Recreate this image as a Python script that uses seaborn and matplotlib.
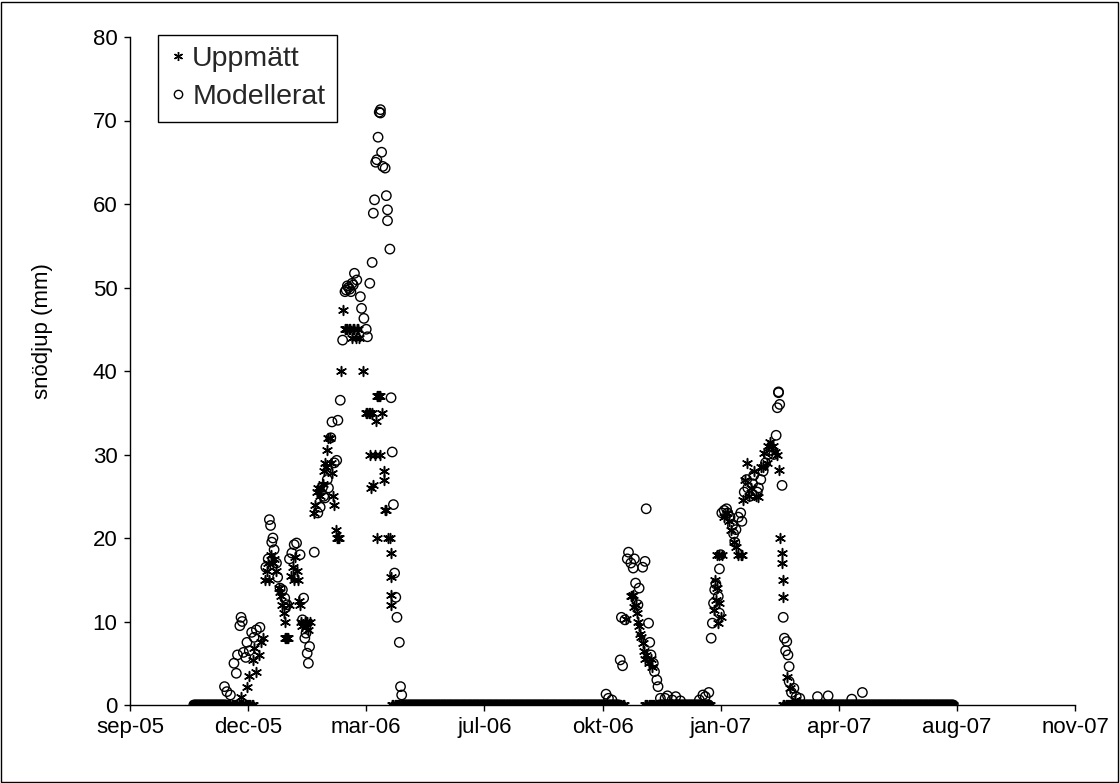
import pandas as pd
import matplotlib
matplotlib.use("Agg")
import matplotlib.pyplot as plt
from matplotlib.lines import Line2D
from matplotlib.patches import Rectangle
import seaborn as sns

sns.set_theme(style="white")
plt.rcParams["font.family"] = ["Liberation Sans", "DejaVu Sans"]

# --- Uppmätt snödjup (mm) ---------------------------------------------------
uppmatt_noll = [("2005-10-29", "2005-12-18"), ("2006-04-15", "2006-10-28"),
                ("2006-11-15", "2007-01-09"), ("2007-03-12", "2007-08-03")]

uppmatt_datum = [
    "2005-12-08", "2005-12-13", "2005-12-15", "2005-12-18", "2005-12-19", "2005-12-21",
    "2005-12-23", "2005-12-25", "2005-12-27", "2005-12-28", "2005-12-30", "2005-12-31",
    "2006-01-01", "2006-01-02", "2006-01-04", "2006-01-05", "2006-01-07", "2006-01-09",
    "2006-01-10", "2006-01-11", "2006-01-12", "2006-01-13", "2006-01-14", "2006-01-14",
    "2006-01-15", "2006-01-16", "2006-01-17", "2006-01-18", "2006-01-19", "2006-01-21",
    "2006-01-22", "2006-01-23", "2006-01-24", "2006-01-25", "2006-01-26", "2006-01-27",
    "2006-01-28", "2006-01-29", "2006-01-31", "2006-02-01", "2006-02-02", "2006-02-03",
    "2006-02-04", "2006-02-08", "2006-02-09", "2006-02-10", "2006-02-11", "2006-02-13",
    "2006-02-14", "2006-02-15", "2006-02-16", "2006-02-17", "2006-02-18", "2006-02-19",
    "2006-02-20", "2006-02-21", "2006-02-22", "2006-02-23", "2006-02-24", "2006-02-25",
    "2006-02-26", "2006-02-27", "2006-02-28", "2006-03-01", "2006-03-03", "2006-03-04",
    "2006-03-06", "2006-03-07", "2006-03-08", "2006-03-09", "2006-03-10", "2006-03-12",
    "2006-03-13", "2006-03-14", "2006-03-15", "2006-03-16", "2006-03-17", "2006-03-18",
    "2006-03-21", "2006-03-24", "2006-03-25", "2006-03-26", "2006-03-27", "2006-03-27",
    "2006-03-28", "2006-03-29", "2006-03-30", "2006-03-31", "2006-04-01", "2006-04-02",
    "2006-04-02", "2006-04-03", "2006-04-04", "2006-04-05", "2006-04-05", "2006-04-06",
    "2006-04-08", "2006-04-08", "2006-04-09", "2006-04-10", "2006-04-11", "2006-04-13",
    "2006-04-14", "2006-04-14", "2006-04-14", "2006-04-14",
    "2006-10-30", "2006-11-03", "2006-11-04", "2006-11-05", "2006-11-06", "2006-11-07",
    "2006-11-08", "2006-11-09", "2006-11-10", "2006-11-11", "2006-11-12", "2006-11-13",
    "2006-11-14", "2006-11-15", "2006-11-16", "2006-11-18", "2006-11-20", "2006-11-21",
    "2007-01-12", "2007-01-13", "2007-01-14", "2007-01-15", "2007-01-15", "2007-01-16",
    "2007-01-17", "2007-01-17", "2007-01-18", "2007-01-19", "2007-01-21", "2007-01-23",
    "2007-01-25", "2007-01-27", "2007-01-29", "2007-01-31", "2007-02-02", "2007-02-04",
    "2007-02-05", "2007-02-06", "2007-02-08", "2007-02-09", "2007-02-11", "2007-02-13",
    "2007-02-15", "2007-02-17", "2007-02-19", "2007-02-21", "2007-02-23", "2007-02-24",
    "2007-02-26", "2007-02-27", "2007-03-01", "2007-03-03", "2007-03-05", "2007-03-07",
    "2007-03-08", "2007-03-09", "2007-03-11", "2007-03-11", "2007-03-12", "2007-03-12",
    "2007-03-15", "2007-03-18", "2007-03-22",
]
uppmatt_djup = [
    1.0, 2.2, 3.5, 5.4, 6.8, 4.0,
    6.0, 7.5, 8.0, 15.0, 16.0, 17.0,
    15.0, 18.0, 17.0, 17.5, 16.0, 14.0,
    13.5, 13.0, 12.0, 11.0, 10.0, 8.0,
    8.0, 8.0, 8.0, 12.0, 15.5, 16.5,
    15.0, 17.7, 16.0, 15.0, 12.5, 12.0,
    10.0, 9.5, 10.0, 9.3, 10.0, 9.0,
    10.0, 23.0, 24.0, 25.5, 26.0, 25.0,
    26.0, 26.5, 28.0, 29.0, 28.5, 30.5,
    32.0, 32.0, 29.0, 27.8, 25.0, 24.0,
    21.0, 20.0, 20.0, 20.0, 40.0, 47.3,
    45.0, 45.0, 45.0, 45.0, 45.0, 44.0,
    45.0, 45.0, 44.0, 45.0, 45.0, 44.0,
    40.0, 35.0, 35.0, 35.0, 35.0, 30.0,
    26.0, 35.0, 26.3, 30.0, 34.0, 37.0,
    20.0, 37.0, 37.0, 37.0, 30.0, 35.0,
    28.0, 27.0, 23.4, 23.4, 20.0, 20.0,
    18.2, 15.3, 13.2, 12.0,
    10.3, 13.0, 13.0, 13.2, 11.7, 12.0,
    11.0, 10.0, 9.5, 8.5, 8.1, 7.4,
    6.5, 5.5, 6.0, 5.0, 5.5, 4.5,
    11.4, 15.0, 12.6, 14.0, 18.0, 9.8,
    12.2, 18.0, 10.5, 18.0, 22.5, 23.0,
    22.0, 21.0, 19.5, 18.9, 18.0, 18.0,
    18.0, 24.5, 27.0, 29.0, 25.0, 26.0,
    28.0, 25.0, 24.9, 28.5, 28.5, 30.2,
    29.0, 31.0, 31.5, 31.0, 30.3, 30.0,
    28.1, 20.0, 18.2, 17.0, 15.0, 12.9,
    3.3, 2.0, 0.6,
]

# --- Modellerat snödjup (mm) ------------------------------------------------
modell_noll = [("2005-10-29", "2005-11-25"), ("2006-04-24", "2006-10-24"),
               ("2006-11-27", "2007-01-08"), ("2007-03-20", "2007-08-03")]

modell_datum = [
    "2005-11-24", "2005-11-26", "2005-11-29", "2005-12-02", "2005-12-04", "2005-12-05",
    "2005-12-07", "2005-12-08", "2005-12-09", "2005-12-10", "2005-12-12", "2005-12-13",
    "2005-12-15", "2005-12-17", "2005-12-19", "2005-12-21", "2005-12-24", "2005-12-29",
    "2005-12-31", "2006-01-01", "2006-01-02", "2006-01-03", "2006-01-04", "2006-01-05",
    "2006-01-07", "2006-01-08", "2006-01-10", "2006-01-12", "2006-01-14", "2006-01-16",
    "2006-01-18", "2006-01-20", "2006-01-22", "2006-01-24", "2006-01-27", "2006-01-29",
    "2006-01-30", "2006-01-31", "2006-02-01", "2006-02-02", "2006-02-03", "2006-02-04",
    "2006-02-08", "2006-02-11", "2006-02-13", "2006-02-15", "2006-02-16", "2006-02-17",
    "2006-02-19", "2006-02-20", "2006-02-22", "2006-02-23", "2006-02-25", "2006-02-27",
    "2006-02-28", "2006-03-02", "2006-03-04", "2006-03-06", "2006-03-07", "2006-03-08",
    "2006-03-09", "2006-03-10", "2006-03-11", "2006-03-12", "2006-03-13", "2006-03-14",
    "2006-03-16", "2006-03-19", "2006-03-20", "2006-03-22", "2006-03-24", "2006-03-25",
    "2006-03-27", "2006-03-29", "2006-03-30", "2006-03-31", "2006-04-01", "2006-04-02",
    "2006-04-03", "2006-04-04", "2006-04-05", "2006-04-05", "2006-04-06", "2006-04-07",
    "2006-04-09", "2006-04-10", "2006-04-11", "2006-04-11", "2006-04-13", "2006-04-14",
    "2006-04-15", "2006-04-16", "2006-04-17", "2006-04-18", "2006-04-19", "2006-04-21",
    "2006-04-22", "2006-04-23",
    "2006-10-13", "2006-10-15", "2006-10-18", "2006-10-25", "2006-10-26", "2006-10-27",
    "2006-10-29", "2006-10-31", "2006-11-01", "2006-11-03", "2006-11-05", "2006-11-06",
    "2006-11-07", "2006-11-09", "2006-11-10", "2006-11-13", "2006-11-15", "2006-11-16",
    "2006-11-18", "2006-11-19", "2006-11-20", "2006-11-22", "2006-11-23", "2006-11-25",
    "2006-11-26", "2006-11-28", "2006-12-02", "2006-12-04", "2006-12-08", "2006-12-11",
    "2006-12-15", "2006-12-31", "2007-01-03", "2007-01-05", "2007-01-08",
    "2007-01-10", "2007-01-11", "2007-01-12", "2007-01-13", "2007-01-14", "2007-01-16",
    "2007-01-17", "2007-01-17", "2007-01-18", "2007-01-19", "2007-01-21", "2007-01-23",
    "2007-01-24", "2007-01-26", "2007-01-28", "2007-01-29", "2007-01-30", "2007-01-31",
    "2007-02-02", "2007-02-04", "2007-02-05", "2007-02-07", "2007-02-09", "2007-02-10",
    "2007-02-12", "2007-02-14", "2007-02-15", "2007-02-18", "2007-02-19", "2007-02-21",
    "2007-02-23", "2007-02-25", "2007-02-27", "2007-03-02", "2007-03-04", "2007-03-06",
    "2007-03-07", "2007-03-08", "2007-03-08", "2007-03-09", "2007-03-11", "2007-03-12",
    "2007-03-13", "2007-03-14", "2007-03-15", "2007-03-16", "2007-03-17", "2007-03-17",
    "2007-03-19", "2007-03-21", "2007-03-23", "2007-03-26", "2007-04-10", "2007-04-19",
    "2007-05-09", "2007-05-18",
]
modell_djup = [
    2.2, 1.6, 1.2, 5.0, 3.8, 6.0,
    9.5, 10.5, 10.0, 6.3, 5.7, 7.5,
    6.5, 8.7, 8.1, 9.0, 9.3, 16.5,
    17.5, 22.2, 21.5, 19.5, 20.0, 18.6,
    17.0, 15.3, 14.0, 13.8, 12.8, 12.0,
    17.5, 18.2, 19.2, 19.4, 18.0, 10.2,
    12.8, 8.0, 8.6, 6.2, 5.0, 7.0,
    18.3, 23.0, 23.7, 26.1, 25.0, 24.8,
    27.0, 26.0, 32.0, 33.9, 29.0, 29.3,
    34.1, 36.5, 43.7, 49.5, 49.7, 50.2,
    50.0, 49.8, 49.5, 50.5, 50.3, 51.7,
    50.9, 48.9, 47.5, 46.3, 45.0, 44.1,
    50.5, 53.0, 58.9, 60.5, 65.0, 65.3,
    68.0, 71.0, 71.3, 70.9, 66.2, 64.5,
    64.3, 61.0, 59.3, 58.0, 54.6, 36.8,
    30.3, 24.0, 15.8, 12.9, 10.5, 7.5,
    2.2, 1.2,
    1.3, 0.8, 0.6, 5.4, 10.5, 4.7,
    10.2, 17.5, 18.3, 17.0, 16.4, 17.5,
    14.6, 12.0, 14.0, 16.5, 17.2, 23.5,
    9.8, 7.5, 6.0, 5.0, 4.0, 3.0,
    2.2, 0.8, 0.8, 1.1, 0.6, 1.0,
    0.5, 0.6, 1.2, 1.0, 1.5,
    8.0, 9.8, 12.2, 13.8, 14.5, 13.0,
    16.3, 11.0, 18.0, 23.0, 23.3, 23.5,
    23.0, 22.5, 21.5, 20.5, 19.5, 21.0,
    22.5, 23.0, 22.0, 25.5, 27.0, 26.0,
    25.0, 26.5, 27.5, 25.5, 26.0, 27.0,
    28.0, 29.0, 30.0, 30.5, 30.0, 32.3,
    35.6, 37.5, 37.4, 36.0, 26.3, 10.5,
    8.0, 6.5, 7.6, 6.0, 4.6, 2.8,
    1.5, 2.0, 1.0, 0.8, 1.0, 1.1,
    0.7, 1.5,
]

# --- Axlar -------------------------------------------------------------------
x_ticks = ["2005-09-05", "2005-12-14", "2006-03-24", "2006-07-02", "2006-10-10",
           "2007-01-18", "2007-04-28", "2007-08-06", "2007-11-14"]
x_ticklabels = ["sep-05", "dec-05", "mar-06", "jul-06", "okt-06",
                "jan-07", "apr-07", "aug-07", "nov-07"]
y_ticks = [0, 10, 20, 30, 40, 50, 60, 70, 80]


def serie(perioder, datum, djup):
    delar = [pd.DataFrame({"datum": pd.date_range(a, b, freq="D"), "djup": 0.0})
             for a, b in perioder]
    delar.append(pd.DataFrame({"datum": pd.to_datetime(datum), "djup": djup}))
    return pd.concat(delar, ignore_index=True)


uppmatt = serie(uppmatt_noll, uppmatt_datum, uppmatt_djup)
modell = serie(modell_noll, modell_datum, modell_djup)

fig = plt.figure(figsize=(11.2, 7.83), dpi=100)
ax = fig.add_axes([130 / 1120, 1 - 705 / 783, (1075 - 130) / 1120, (705 - 37) / 783])

stjarna = (6, 2, 0)
sns.scatterplot(data=modell, x="datum", y="djup", ax=ax, marker="o", s=46,
                facecolor="none", edgecolor="black", linewidth=1.0, zorder=3)
sns.scatterplot(data=uppmatt, x="datum", y="djup", ax=ax, marker=stjarna, s=50,
                color="black", linewidth=1.1, zorder=4)

ax.set_xlim(pd.Timestamp(x_ticks[0]), pd.Timestamp(x_ticks[-1]))
ax.set_ylim(y_ticks[0], y_ticks[-1])
ax.set_xticks(pd.to_datetime(x_ticks))
ax.set_xticklabels(x_ticklabels)
ax.set_yticks(y_ticks)

sns.despine(ax=ax)
for side in ("left", "bottom"):
    ax.spines[side].set_color("black")
    ax.spines[side].set_linewidth(1.0)
ax.tick_params(axis="both", which="major", direction="out", length=4, width=1.0,
               color="black", labelsize=16, labelcolor="black",
               left=True, bottom=True)
ax.tick_params(axis="y", pad=5)
ax.tick_params(axis="x", pad=4.5)
ax.grid(False)

ax.set_xlabel("")
ax.set_ylabel("snödjup (mm)", fontsize=16, color="black")
ax.yaxis.set_label_coords(-0.082, 0.56)

handles = [
    Line2D([], [], marker=stjarna, linestyle="none", color="black",
           markersize=6.5, markeredgewidth=1.0),
    Line2D([], [], marker="o", linestyle="none", markerfacecolor="none",
           markeredgecolor="black", markersize=6.0, markeredgewidth=1.0),
]
leg = ax.legend(handles, ["Uppmätt", "Modellerat"], loc="upper left",
                bbox_to_anchor=(158 / 1120, 1 - 35 / 783),
                bbox_transform=fig.transFigure, fontsize=20.5, frameon=True,
                fancybox=False, framealpha=1, edgecolor="black",
                borderpad=0.4, handletextpad=0.2, handlelength=0.6,
                labelspacing=0.42, borderaxespad=0)
leg.get_frame().set_linewidth(1.0)

fig.patches.append(Rectangle((0.001, 0.001), 0.997, 0.997, transform=fig.transFigure,
                             fill=False, edgecolor="black", linewidth=1.0))

fig.savefig("out.png", dpi=100, facecolor="white")
